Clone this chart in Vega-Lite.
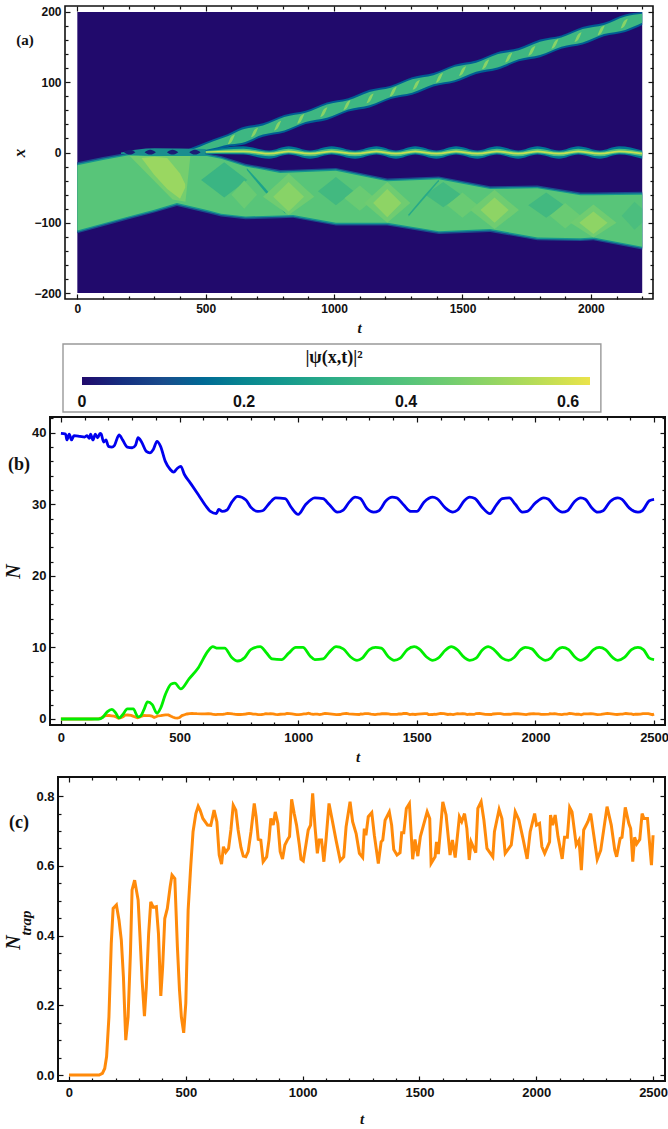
{"$schema":"https://vega.github.io/schema/vega-lite/v6.json","padding":{"left":2,"top":3,"right":0,"bottom":0},"background":"white","bounds":"flush","spacing":411,"config":{"view":{"stroke":"#111","strokeWidth":1.6},"axis":{"grid":false,"domain":false,"tickColor":"#111","tickWidth":1.2,"labelFont":"Liberation Sans","labelFontWeight":"bold","labelColor":"#111","titleColor":"#111","titleFont":"Liberation Serif","titleFontStyle":"italic","titleFontWeight":"bold"},"concat":{"spacing":0}},
"datasets":{
"bg":[{"t0":0,"t1":2200,"x0":-200,"x1":200,"v":0}],
"box":[{"t0":-55.8,"t1":2039,"x0":-369.4,"x1":-272.6}],
"lab":[{"t":-204,"x":160,"s":"(a)"}],
"labb":[{"t":-177,"x":35.5,"s":"(b)"}],
"labc":[{"t":-214,"x":0.723,"s":"(c)"}],
"labtrap":[{"t":-185,"x":0.436,"s":"trap"}],
"low":[
{"id":"a0","t":0,"lo":-115,"hi":-14,"v":0.1},{"id":"a0","t":100,"lo":-105,"hi":-6.5,"v":0.1},{"id":"a0","t":200,"lo":-95,"hi":0,"v":0.1},{"id":"a0","t":300,"lo":-85.5,"hi":-1,"v":0.1},{"id":"a0","t":388,"lo":-76,"hi":-1,"v":0.1},{"id":"a0","t":505,"lo":-86,"hi":-1,"v":0.1},{"id":"a0","t":560,"lo":-91,"hi":-5,"v":0.1},{"id":"a0","t":655,"lo":-95,"hi":-16,"v":0.1},{"id":"a0","t":790,"lo":-93.5,"hi":-25,"v":0.1},{"id":"a0","t":840,"lo":-93,"hi":-24.5,"v":0.1},{"id":"a0","t":1007,"lo":-104,"hi":-22,"v":0.1},{"id":"a0","t":1207,"lo":-104,"hi":-37,"v":0.1},{"id":"a0","t":1408,"lo":-116,"hi":-34,"v":0.1},{"id":"a0","t":1608,"lo":-113,"hi":-48,"v":0.1},{"id":"a0","t":1792,"lo":-125,"hi":-47,"v":0.1},{"id":"a0","t":1960,"lo":-126,"hi":-57,"v":0.1},{"id":"a0","t":2010,"lo":-125,"hi":-57,"v":0.1},{"id":"a0","t":2200,"lo":-138,"hi":-56,"v":0.1},
{"id":"a1","t":0,"lo":-113,"hi":-16,"v":0.24},{"id":"a1","t":100,"lo":-103,"hi":-8.5,"v":0.24},{"id":"a1","t":200,"lo":-93,"hi":-2,"v":0.24},{"id":"a1","t":300,"lo":-83.5,"hi":-3,"v":0.24},{"id":"a1","t":388,"lo":-74,"hi":-3,"v":0.24},{"id":"a1","t":505,"lo":-84,"hi":-3,"v":0.24},{"id":"a1","t":560,"lo":-89,"hi":-7,"v":0.24},{"id":"a1","t":655,"lo":-93,"hi":-18,"v":0.24},{"id":"a1","t":790,"lo":-91.5,"hi":-27,"v":0.24},{"id":"a1","t":840,"lo":-91,"hi":-26.5,"v":0.24},{"id":"a1","t":1007,"lo":-102,"hi":-24,"v":0.24},{"id":"a1","t":1207,"lo":-102,"hi":-39,"v":0.24},{"id":"a1","t":1408,"lo":-114,"hi":-36,"v":0.24},{"id":"a1","t":1608,"lo":-111,"hi":-50,"v":0.24},{"id":"a1","t":1792,"lo":-123,"hi":-49,"v":0.24},{"id":"a1","t":1960,"lo":-124,"hi":-59,"v":0.24},{"id":"a1","t":2010,"lo":-123,"hi":-59,"v":0.24},{"id":"a1","t":2200,"lo":-136,"hi":-58,"v":0.24},
{"id":"a2","t":0,"lo":-111,"hi":-18,"v":0.41},{"id":"a2","t":100,"lo":-101,"hi":-10.5,"v":0.41},{"id":"a2","t":200,"lo":-91,"hi":-4,"v":0.41},{"id":"a2","t":300,"lo":-81.5,"hi":-5,"v":0.41},{"id":"a2","t":388,"lo":-72,"hi":-5,"v":0.41},{"id":"a2","t":505,"lo":-82,"hi":-5,"v":0.41},{"id":"a2","t":560,"lo":-87,"hi":-9,"v":0.41},{"id":"a2","t":655,"lo":-91,"hi":-20,"v":0.41},{"id":"a2","t":790,"lo":-89.5,"hi":-29,"v":0.41},{"id":"a2","t":840,"lo":-89,"hi":-28.5,"v":0.41},{"id":"a2","t":1007,"lo":-100,"hi":-26,"v":0.41},{"id":"a2","t":1207,"lo":-100,"hi":-41,"v":0.41},{"id":"a2","t":1408,"lo":-112,"hi":-38,"v":0.41},{"id":"a2","t":1608,"lo":-109,"hi":-52,"v":0.41},{"id":"a2","t":1792,"lo":-121,"hi":-51,"v":0.41},{"id":"a2","t":1960,"lo":-122,"hi":-61,"v":0.41},{"id":"a2","t":2010,"lo":-121,"hi":-61,"v":0.41},{"id":"a2","t":2200,"lo":-134,"hi":-60,"v":0.41},
{"id":"b1","t":204,"lo":-5,"hi":-5,"v":0.46},{"id":"b1","t":371,"lo":-67,"hi":-5,"v":0.46},{"id":"b1","t":421,"lo":-70,"hi":-5,"v":0.46},{"id":"b1","t":440,"lo":-6,"hi":-5,"v":0.46},
{"id":"b2","t":250,"lo":-8,"hi":-8,"v":0.52},{"id":"b2","t":300,"lo":-32,"hi":-6,"v":0.52},{"id":"b2","t":350,"lo":-52,"hi":-8,"v":0.52},{"id":"b2","t":400,"lo":-66,"hi":-30,"v":0.52},{"id":"b2","t":420,"lo":-50,"hi":-45,"v":0.52},
{"id":"d1","t":482,"lo":-39,"hi":-39,"v":0.34},{"id":"d1","t":572,"lo":-64,"hi":-14,"v":0.34},{"id":"d1","t":662,"lo":-39,"hi":-39,"v":0.34},
{"id":"d2","t":660,"lo":-25,"hi":-22,"v":0.28},{"id":"d2","t":730,"lo":-56,"hi":-50,"v":0.28},{"id":"d2","t":810,"lo":-87,"hi":-84,"v":0.28},
{"id":"d3","t":937,"lo":-55,"hi":-55,"v":0.36},{"id":"d3","t":1007,"lo":-75,"hi":-35,"v":0.36},{"id":"d3","t":1077,"lo":-55,"hi":-55,"v":0.36},
{"id":"d4","t":1355,"lo":-60,"hi":-60,"v":0.36},{"id":"d4","t":1425,"lo":-78,"hi":-42,"v":0.36},{"id":"d4","t":1495,"lo":-60,"hi":-60,"v":0.36},
{"id":"d5","t":1756,"lo":-75,"hi":-75,"v":0.36},{"id":"d5","t":1826,"lo":-93,"hi":-57,"v":0.36},{"id":"d5","t":1896,"lo":-75,"hi":-75,"v":0.36},
{"id":"d6","t":2120,"lo":-90,"hi":-90,"v":0.38},{"id":"d6","t":2170,"lo":-110,"hi":-70,"v":0.38},{"id":"d6","t":2200,"lo":-100,"hi":-80,"v":0.38},
{"id":"d7","t":1290,"lo":-91,"hi":-88,"v":0.3},{"id":"d7","t":1350,"lo":-66,"hi":-62,"v":0.3},{"id":"d7","t":1408,"lo":-41,"hi":-38,"v":0.3},
{"id":"e1","t":600,"lo":-60,"hi":-60,"v":0.44},{"id":"e1","t":650,"lo":-80,"hi":-40,"v":0.44},{"id":"e1","t":700,"lo":-60,"hi":-60,"v":0.44},
{"id":"e2","t":1040,"lo":-65,"hi":-65,"v":0.44},{"id":"e2","t":1100,"lo":-83,"hi":-47,"v":0.44},{"id":"e2","t":1160,"lo":-65,"hi":-65,"v":0.44},
{"id":"e3","t":1440,"lo":-75,"hi":-75,"v":0.44},{"id":"e3","t":1500,"lo":-93,"hi":-57,"v":0.44},{"id":"e3","t":1560,"lo":-75,"hi":-75,"v":0.44},
{"id":"e4","t":1840,"lo":-90,"hi":-90,"v":0.44},{"id":"e4","t":1900,"lo":-108,"hi":-72,"v":0.44},{"id":"e4","t":1960,"lo":-90,"hi":-90,"v":0.44},
{"id":"g2","t":723,"lo":-63,"hi":-63,"v":0.45},{"id":"g2","t":823,"lo":-89,"hi":-30,"v":0.45},{"id":"g2","t":923,"lo":-63,"hi":-63,"v":0.45},
{"id":"g3","t":1117,"lo":-72,"hi":-72,"v":0.45},{"id":"g3","t":1207,"lo":-100,"hi":-42,"v":0.45},{"id":"g3","t":1297,"lo":-72,"hi":-72,"v":0.45},
{"id":"g4","t":1530,"lo":-82,"hi":-82,"v":0.45},{"id":"g4","t":1625,"lo":-109,"hi":-53,"v":0.45},{"id":"g4","t":1720,"lo":-82,"hi":-82,"v":0.45},
{"id":"g5","t":1920,"lo":-100,"hi":-100,"v":0.45},{"id":"g5","t":2010,"lo":-121,"hi":-74,"v":0.45},{"id":"g5","t":2100,"lo":-100,"hi":-100,"v":0.45},
{"id":"f2","t":763,"lo":-63,"hi":-63,"v":0.49},{"id":"f2","t":823,"lo":-84,"hi":-42,"v":0.49},{"id":"f2","t":883,"lo":-63,"hi":-63,"v":0.49},
{"id":"f3","t":1152,"lo":-72,"hi":-72,"v":0.5},{"id":"f3","t":1207,"lo":-92,"hi":-52,"v":0.5},{"id":"f3","t":1262,"lo":-72,"hi":-72,"v":0.5},
{"id":"f4","t":1570,"lo":-82,"hi":-82,"v":0.5},{"id":"f4","t":1625,"lo":-100,"hi":-64,"v":0.5},{"id":"f4","t":1680,"lo":-82,"hi":-82,"v":0.5},
{"id":"f5","t":1955,"lo":-100,"hi":-100,"v":0.5},{"id":"f5","t":2010,"lo":-116,"hi":-84,"v":0.5},{"id":"f5","t":2065,"lo":-100,"hi":-100,"v":0.5}],
"up":[
{"id":"u0","t":420,"lo":-3,"hi":3,"v":0.13},{"id":"u0","t":475,"lo":-1,"hi":11,"v":0.13},{"id":"u0","t":530,"lo":3,"hi":19,"v":0.13},{"id":"u0","t":585,"lo":8,"hi":26,"v":0.13},{"id":"u0","t":640,"lo":10.5,"hi":35.5,"v":0.13},{"id":"u0","t":723,"lo":22.5,"hi":41.5,"v":0.13},{"id":"u0","t":806,"lo":28.4,"hi":53.4,"v":0.13},{"id":"u0","t":889,"lo":40.4,"hi":59.4,"v":0.13},{"id":"u0","t":972,"lo":46.3,"hi":71.3,"v":0.13},{"id":"u0","t":1055,"lo":58.2,"hi":77.2,"v":0.13},{"id":"u0","t":1138,"lo":64.2,"hi":89.2,"v":0.13},{"id":"u0","t":1221,"lo":76.1,"hi":95.1,"v":0.13},{"id":"u0","t":1304,"lo":82.1,"hi":107.1,"v":0.13},{"id":"u0","t":1387,"lo":94,"hi":113,"v":0.13},{"id":"u0","t":1470,"lo":99.9,"hi":124.9,"v":0.13},{"id":"u0","t":1553,"lo":111.9,"hi":130.9,"v":0.13},{"id":"u0","t":1636,"lo":117.8,"hi":142.8,"v":0.13},{"id":"u0","t":1719,"lo":129.7,"hi":148.7,"v":0.13},{"id":"u0","t":1802,"lo":135.7,"hi":160.7,"v":0.13},{"id":"u0","t":1885,"lo":147.6,"hi":166.6,"v":0.13},{"id":"u0","t":1968,"lo":153.6,"hi":178.6,"v":0.13},{"id":"u0","t":2051,"lo":165.5,"hi":184.5,"v":0.13},{"id":"u0","t":2134,"lo":171.5,"hi":196.5,"v":0.13},{"id":"u0","t":2200,"lo":181.5,"hi":200,"v":0.13},
{"id":"u1","t":420,"lo":-1,"hi":1,"v":0.35},{"id":"u1","t":475,"lo":2,"hi":8,"v":0.35},{"id":"u1","t":530,"lo":6,"hi":16,"v":0.35},{"id":"u1","t":585,"lo":11,"hi":23,"v":0.35},{"id":"u1","t":640,"lo":13.5,"hi":32.5,"v":0.35},{"id":"u1","t":723,"lo":25.5,"hi":38.5,"v":0.35},{"id":"u1","t":806,"lo":31.4,"hi":50.4,"v":0.35},{"id":"u1","t":889,"lo":43.4,"hi":56.4,"v":0.35},{"id":"u1","t":972,"lo":49.3,"hi":68.3,"v":0.35},{"id":"u1","t":1055,"lo":61.2,"hi":74.2,"v":0.35},{"id":"u1","t":1138,"lo":67.2,"hi":86.2,"v":0.35},{"id":"u1","t":1221,"lo":79.1,"hi":92.1,"v":0.35},{"id":"u1","t":1304,"lo":85.1,"hi":104.1,"v":0.35},{"id":"u1","t":1387,"lo":97,"hi":110,"v":0.35},{"id":"u1","t":1470,"lo":102.9,"hi":121.9,"v":0.35},{"id":"u1","t":1553,"lo":114.9,"hi":127.9,"v":0.35},{"id":"u1","t":1636,"lo":120.8,"hi":139.8,"v":0.35},{"id":"u1","t":1719,"lo":132.7,"hi":145.7,"v":0.35},{"id":"u1","t":1802,"lo":138.7,"hi":157.7,"v":0.35},{"id":"u1","t":1885,"lo":150.6,"hi":163.6,"v":0.35},{"id":"u1","t":1968,"lo":156.6,"hi":175.6,"v":0.35},{"id":"u1","t":2051,"lo":168.5,"hi":181.5,"v":0.35},{"id":"u1","t":2134,"lo":174.5,"hi":193.5,"v":0.35},{"id":"u1","t":2200,"lo":184.5,"hi":197.5,"v":0.35},
{"id":"s01","t":586,"lo":11.7,"hi":11.7,"v":0.49},{"id":"s01","t":600,"lo":14.7,"hi":22.7,"v":0.49},{"id":"s01","t":614,"lo":25.7,"hi":25.7,"v":0.49},
{"id":"s02","t":676,"lo":21.4,"hi":21.4,"v":0.49},{"id":"s02","t":690,"lo":24.4,"hi":32.4,"v":0.49},{"id":"s02","t":704,"lo":35.4,"hi":35.4,"v":0.49},
{"id":"s03","t":766,"lo":31.1,"hi":31.1,"v":0.49},{"id":"s03","t":780,"lo":34.1,"hi":42.1,"v":0.49},{"id":"s03","t":794,"lo":45.1,"hi":45.1,"v":0.49},
{"id":"s04","t":856,"lo":40.8,"hi":40.8,"v":0.49},{"id":"s04","t":870,"lo":43.8,"hi":51.8,"v":0.49},{"id":"s04","t":884,"lo":54.8,"hi":54.8,"v":0.49},
{"id":"s05","t":946,"lo":50.5,"hi":50.5,"v":0.49},{"id":"s05","t":960,"lo":53.5,"hi":61.5,"v":0.49},{"id":"s05","t":974,"lo":64.5,"hi":64.5,"v":0.49},
{"id":"s06","t":1036,"lo":60.2,"hi":60.2,"v":0.49},{"id":"s06","t":1050,"lo":63.2,"hi":71.2,"v":0.49},{"id":"s06","t":1064,"lo":74.2,"hi":74.2,"v":0.49},
{"id":"s07","t":1126,"lo":69.9,"hi":69.9,"v":0.49},{"id":"s07","t":1140,"lo":72.9,"hi":80.9,"v":0.49},{"id":"s07","t":1154,"lo":83.9,"hi":83.9,"v":0.49},
{"id":"s08","t":1216,"lo":79.6,"hi":79.6,"v":0.49},{"id":"s08","t":1230,"lo":82.6,"hi":90.6,"v":0.49},{"id":"s08","t":1244,"lo":93.6,"hi":93.6,"v":0.49},
{"id":"s09","t":1306,"lo":89.3,"hi":89.3,"v":0.49},{"id":"s09","t":1320,"lo":92.3,"hi":100.3,"v":0.49},{"id":"s09","t":1334,"lo":103.3,"hi":103.3,"v":0.49},
{"id":"s10","t":1396,"lo":99,"hi":99,"v":0.49},{"id":"s10","t":1410,"lo":102,"hi":110,"v":0.49},{"id":"s10","t":1424,"lo":113,"hi":113,"v":0.49},
{"id":"s11","t":1486,"lo":108.7,"hi":108.7,"v":0.49},{"id":"s11","t":1500,"lo":111.7,"hi":119.7,"v":0.49},{"id":"s11","t":1514,"lo":122.7,"hi":122.7,"v":0.49},
{"id":"s12","t":1576,"lo":118.4,"hi":118.4,"v":0.49},{"id":"s12","t":1590,"lo":121.4,"hi":129.4,"v":0.49},{"id":"s12","t":1604,"lo":132.4,"hi":132.4,"v":0.49},
{"id":"s13","t":1666,"lo":128.1,"hi":128.1,"v":0.49},{"id":"s13","t":1680,"lo":131.1,"hi":139.1,"v":0.49},{"id":"s13","t":1694,"lo":142.1,"hi":142.1,"v":0.49},
{"id":"s14","t":1756,"lo":137.7,"hi":137.7,"v":0.49},{"id":"s14","t":1770,"lo":140.7,"hi":148.7,"v":0.49},{"id":"s14","t":1784,"lo":151.7,"hi":151.7,"v":0.49},
{"id":"s15","t":1846,"lo":147.4,"hi":147.4,"v":0.49},{"id":"s15","t":1860,"lo":150.4,"hi":158.4,"v":0.49},{"id":"s15","t":1874,"lo":161.4,"hi":161.4,"v":0.49},
{"id":"s16","t":1936,"lo":157.1,"hi":157.1,"v":0.49},{"id":"s16","t":1950,"lo":160.1,"hi":168.1,"v":0.49},{"id":"s16","t":1964,"lo":171.1,"hi":171.1,"v":0.49},
{"id":"s17","t":2026,"lo":166.8,"hi":166.8,"v":0.49},{"id":"s17","t":2040,"lo":169.8,"hi":177.8,"v":0.49},{"id":"s17","t":2054,"lo":180.8,"hi":180.8,"v":0.49},
{"id":"s18","t":2116,"lo":176.5,"hi":176.5,"v":0.49},{"id":"s18","t":2130,"lo":179.5,"hi":187.5,"v":0.49},{"id":"s18","t":2144,"lo":190.5,"hi":190.5,"v":0.49},
{"id":"p0","t":170,"lo":-2,"hi":0,"v":0.22},{"id":"p0","t":300,"lo":-4,"hi":6,"v":0.22},{"id":"p0","t":500,"lo":-4,"hi":5,"v":0.22},
{"id":"o1","t":182,"lo":0.5,"hi":0.5,"v":0.02},{"id":"o1","t":204,"lo":-3,"hi":4,"v":0.02},{"id":"o1","t":226,"lo":0.5,"hi":0.5,"v":0.02},
{"id":"o2","t":262,"lo":0.5,"hi":0.5,"v":0.02},{"id":"o2","t":284,"lo":-3,"hi":4,"v":0.02},{"id":"o2","t":306,"lo":0.5,"hi":0.5,"v":0.02},
{"id":"o3","t":349,"lo":0.5,"hi":0.5,"v":0.02},{"id":"o3","t":371,"lo":-3,"hi":4,"v":0.02},{"id":"o3","t":393,"lo":0.5,"hi":0.5,"v":0.02},
{"id":"o4","t":436,"lo":0.5,"hi":0.5,"v":0.02},{"id":"o4","t":458,"lo":-3,"hi":4,"v":0.02},{"id":"o4","t":480,"lo":0.5,"hi":0.5,"v":0.02},
{"id":"c0","t":500,"lo":-2,"hi":3,"v":0.17},{"id":"c0","t":647,"lo":-3,"hi":9,"v":0.17},{"id":"c0","t":747,"lo":-9,"hi":3,"v":0.17},{"id":"c0","t":823,"lo":-3,"hi":9,"v":0.17},{"id":"c0","t":906,"lo":-9,"hi":3,"v":0.17},{"id":"c0","t":990,"lo":-3,"hi":9,"v":0.17},{"id":"c0","t":1082,"lo":-9,"hi":3,"v":0.17},{"id":"c0","t":1165,"lo":-3,"hi":9,"v":0.17},{"id":"c0","t":1241,"lo":-9,"hi":3,"v":0.17},{"id":"c0","t":1316,"lo":-3,"hi":9,"v":0.17},{"id":"c0","t":1399,"lo":-9,"hi":3,"v":0.17},{"id":"c0","t":1475,"lo":-3,"hi":9,"v":0.17},{"id":"c0","t":1558,"lo":-9,"hi":3,"v":0.17},{"id":"c0","t":1634,"lo":-3,"hi":9,"v":0.17},{"id":"c0","t":1717,"lo":-9,"hi":3,"v":0.17},{"id":"c0","t":1792,"lo":-3,"hi":9,"v":0.17},{"id":"c0","t":1876,"lo":-9,"hi":3,"v":0.17},{"id":"c0","t":1951,"lo":-3,"hi":9,"v":0.17},{"id":"c0","t":2035,"lo":-9,"hi":3,"v":0.17},{"id":"c0","t":2110,"lo":-3,"hi":9,"v":0.17},{"id":"c0","t":2200,"lo":-9,"hi":3,"v":0.17},
{"id":"c1","t":500,"lo":-1,"hi":2,"v":0.38},{"id":"c1","t":647,"lo":-1,"hi":5.5,"v":0.38},{"id":"c1","t":747,"lo":-5.5,"hi":1,"v":0.38},{"id":"c1","t":823,"lo":-1,"hi":5.5,"v":0.38},{"id":"c1","t":906,"lo":-5.5,"hi":1,"v":0.38},{"id":"c1","t":990,"lo":-1,"hi":5.5,"v":0.38},{"id":"c1","t":1082,"lo":-5.5,"hi":1,"v":0.38},{"id":"c1","t":1165,"lo":-1,"hi":5.5,"v":0.38},{"id":"c1","t":1241,"lo":-5.5,"hi":1,"v":0.38},{"id":"c1","t":1316,"lo":-1,"hi":5.5,"v":0.38},{"id":"c1","t":1399,"lo":-5.5,"hi":1,"v":0.38},{"id":"c1","t":1475,"lo":-1,"hi":5.5,"v":0.38},{"id":"c1","t":1558,"lo":-5.5,"hi":1,"v":0.38},{"id":"c1","t":1634,"lo":-1,"hi":5.5,"v":0.38},{"id":"c1","t":1717,"lo":-5.5,"hi":1,"v":0.38},{"id":"c1","t":1792,"lo":-1,"hi":5.5,"v":0.38},{"id":"c1","t":1876,"lo":-5.5,"hi":1,"v":0.38},{"id":"c1","t":1951,"lo":-1,"hi":5.5,"v":0.38},{"id":"c1","t":2035,"lo":-5.5,"hi":1,"v":0.38},{"id":"c1","t":2110,"lo":-1,"hi":5.5,"v":0.38},{"id":"c1","t":2200,"lo":-5.5,"hi":1,"v":0.38},
{"id":"c2","t":500,"lo":0,"hi":1.5,"v":0.58},{"id":"c2","t":647,"lo":0.5,"hi":3,"v":0.58},{"id":"c2","t":747,"lo":-3,"hi":-0.5,"v":0.58},{"id":"c2","t":823,"lo":0.5,"hi":3,"v":0.58},{"id":"c2","t":906,"lo":-3,"hi":-0.5,"v":0.58},{"id":"c2","t":990,"lo":0.5,"hi":3,"v":0.58},{"id":"c2","t":1082,"lo":-3,"hi":-0.5,"v":0.58},{"id":"c2","t":1165,"lo":0.5,"hi":3,"v":0.58},{"id":"c2","t":1241,"lo":-3,"hi":-0.5,"v":0.58},{"id":"c2","t":1316,"lo":0.5,"hi":3,"v":0.58},{"id":"c2","t":1399,"lo":-3,"hi":-0.5,"v":0.58},{"id":"c2","t":1475,"lo":0.5,"hi":3,"v":0.58},{"id":"c2","t":1558,"lo":-3,"hi":-0.5,"v":0.58},{"id":"c2","t":1634,"lo":0.5,"hi":3,"v":0.58},{"id":"c2","t":1717,"lo":-3,"hi":-0.5,"v":0.58},{"id":"c2","t":1792,"lo":0.5,"hi":3,"v":0.58},{"id":"c2","t":1876,"lo":-3,"hi":-0.5,"v":0.58},{"id":"c2","t":1951,"lo":0.5,"hi":3,"v":0.58},{"id":"c2","t":2035,"lo":-3,"hi":-0.5,"v":0.58},{"id":"c2","t":2110,"lo":0.5,"hi":3,"v":0.58},{"id":"c2","t":2200,"lo":-3,"hi":-0.5,"v":0.58}],
"blue":[{"t":0,"v":39.9},{"t":20,"v":39.8},{"t":25,"v":39},{"t":35,"v":39.8},{"t":45,"v":39},{"t":55,"v":39.6},{"t":80,"v":39.5},{"t":100,"v":39.4},{"t":110,"v":39.6},{"t":120,"v":39.2},{"t":125,"v":39.8},{"t":135,"v":39},{"t":145,"v":39.8},{"t":155,"v":39.3},{"t":165,"v":39.9},{"t":170,"v":39.8},{"t":180,"v":38.7},{"t":190,"v":39},{"t":200,"v":38.1},{"t":215,"v":38},{"t":225,"v":38.2},{"t":245,"v":39.7},{"t":260,"v":39},{"t":280,"v":38},{"t":300,"v":37.9},{"t":315,"v":38.3},{"t":325,"v":39.3},{"t":340,"v":38.7},{"t":360,"v":37.4},{"t":375,"v":37.2},{"t":390,"v":37.7},{"t":405,"v":38.8},{"t":420,"v":38.1},{"t":440,"v":36},{"t":460,"v":34.9},{"t":475,"v":34.5},{"t":490,"v":35},{"t":505,"v":35.3},{"t":520,"v":34.2},{"t":545,"v":33},{"t":580,"v":31.3},{"t":610,"v":29.8},{"t":630,"v":29},{"t":655,"v":28.7},{"t":665,"v":29.3},{"t":680,"v":29},{"t":700,"v":29.2},{"t":720,"v":30.3},{"t":745,"v":31.1},{"t":780,"v":30.6},{"t":800,"v":29.6},{"t":830,"v":29},{"t":850,"v":29.1},{"t":880,"v":30.2},{"t":905,"v":30.9},{"t":945,"v":30.8},{"t":970,"v":29.6},{"t":1000,"v":28.6},{"t":1030,"v":29.9},{"t":1070,"v":30.9},{"t":1105,"v":30.8},{"t":1130,"v":30},{"t":1165,"v":28.9},{"t":1190,"v":29.2},{"t":1215,"v":30.3},{"t":1240,"v":31},{"t":1262,"v":30.8},{"t":1290,"v":29.4},{"t":1318,"v":28.9},{"t":1340,"v":29.1},{"t":1370,"v":30.5},{"t":1396,"v":31},{"t":1415,"v":30.9},{"t":1445,"v":29.9},{"t":1475,"v":29},{"t":1500,"v":29},{"t":1530,"v":30.3},{"t":1567,"v":31},{"t":1585,"v":30.8},{"t":1620,"v":29.5},{"t":1652,"v":28.9},{"t":1672,"v":29.2},{"t":1700,"v":30.5},{"t":1723,"v":31},{"t":1745,"v":30.8},{"t":1775,"v":29.6},{"t":1808,"v":28.7},{"t":1835,"v":29.9},{"t":1860,"v":30.8},{"t":1890,"v":30.9},{"t":1915,"v":30},{"t":1945,"v":28.9},{"t":1965,"v":29},{"t":2000,"v":30.2},{"t":2035,"v":30.9},{"t":2055,"v":30.7},{"t":2085,"v":29.5},{"t":2113,"v":28.9},{"t":2135,"v":29.1},{"t":2165,"v":30.4},{"t":2191,"v":30.9},{"t":2210,"v":30.7},{"t":2240,"v":29.4},{"t":2262,"v":28.9},{"t":2285,"v":29.1},{"t":2315,"v":30.4},{"t":2347,"v":30.9},{"t":2365,"v":30.7},{"t":2395,"v":29.5},{"t":2432,"v":28.9},{"t":2450,"v":29.1},{"t":2480,"v":30.5},{"t":2500,"v":30.7}],
"green":[{"t":0,"v":0},{"t":160,"v":0},{"t":175,"v":0.2},{"t":195,"v":1},{"t":215,"v":1.35},{"t":230,"v":0.9},{"t":245,"v":0.15},{"t":260,"v":0.6},{"t":280,"v":1.4},{"t":305,"v":1.4},{"t":325,"v":0.3},{"t":335,"v":0.4},{"t":350,"v":1.3},{"t":365,"v":2.4},{"t":385,"v":2},{"t":405,"v":0.8},{"t":420,"v":1.5},{"t":440,"v":3.4},{"t":465,"v":4.9},{"t":480,"v":5},{"t":505,"v":4.2},{"t":540,"v":5.6},{"t":580,"v":7.2},{"t":620,"v":9.5},{"t":640,"v":10.1},{"t":660,"v":9.9},{"t":690,"v":9.9},{"t":720,"v":8.6},{"t":745,"v":8.1},{"t":775,"v":8.6},{"t":800,"v":9.7},{"t":840,"v":10.1},{"t":865,"v":9.3},{"t":890,"v":8.4},{"t":930,"v":8.3},{"t":960,"v":9.2},{"t":990,"v":10},{"t":1020,"v":10},{"t":1050,"v":8.8},{"t":1070,"v":8.3},{"t":1105,"v":8.4},{"t":1130,"v":9.3},{"t":1160,"v":10.1},{"t":1190,"v":9.8},{"t":1220,"v":8.7},{"t":1248,"v":8.2},{"t":1270,"v":8.5},{"t":1300,"v":9.7},{"t":1326,"v":10},{"t":1350,"v":9.9},{"t":1380,"v":8.7},{"t":1404,"v":8.2},{"t":1430,"v":8.5},{"t":1460,"v":9.7},{"t":1489,"v":10.1},{"t":1510,"v":9.8},{"t":1540,"v":8.7},{"t":1567,"v":8.2},{"t":1590,"v":8.5},{"t":1620,"v":9.6},{"t":1645,"v":10.1},{"t":1670,"v":9.7},{"t":1700,"v":8.6},{"t":1723,"v":8.2},{"t":1750,"v":8.5},{"t":1775,"v":9.6},{"t":1801,"v":10.1},{"t":1825,"v":9.7},{"t":1860,"v":8.5},{"t":1886,"v":8.2},{"t":1910,"v":8.6},{"t":1935,"v":9.6},{"t":1957,"v":10},{"t":1985,"v":9.8},{"t":2015,"v":8.7},{"t":2042,"v":8.2},{"t":2065,"v":8.5},{"t":2090,"v":9.6},{"t":2113,"v":10},{"t":2140,"v":9.7},{"t":2165,"v":8.7},{"t":2191,"v":8.2},{"t":2215,"v":8.6},{"t":2245,"v":9.7},{"t":2269,"v":10},{"t":2295,"v":9.7},{"t":2325,"v":8.6},{"t":2347,"v":8.2},{"t":2375,"v":8.6},{"t":2405,"v":9.7},{"t":2432,"v":10},{"t":2455,"v":9.7},{"t":2480,"v":8.5},{"t":2500,"v":8.3}],
"trap":[{"t":0,"v":0},{"t":129,"v":0},{"t":143,"v":0.005},{"t":153,"v":0.019},{"t":161,"v":0.053},{"t":171,"v":0.167},{"t":181,"v":0.378},{"t":189,"v":0.478},{"t":203,"v":0.488},{"t":214,"v":0.445},{"t":224,"v":0.387},{"t":233,"v":0.282},{"t":243,"v":0.1},{"t":253,"v":0.167},{"t":263,"v":0.349},{"t":270,"v":0.531},{"t":281,"v":0.559},{"t":296,"v":0.502},{"t":304,"v":0.397},{"t":313,"v":0.272},{"t":323,"v":0.169},{"t":331,"v":0.253},{"t":341,"v":0.406},{"t":350,"v":0.497},{"t":361,"v":0.481},{"t":374,"v":0.483},{"t":383,"v":0.406},{"t":393,"v":0.227},{"t":401,"v":0.311},{"t":410,"v":0.449},{"t":421,"v":0.478},{"t":433,"v":0.54},{"t":441,"v":0.574},{"t":453,"v":0.564},{"t":464,"v":0.368},{"t":473,"v":0.244},{"t":481,"v":0.167},{"t":491,"v":0.121},{"t":500,"v":0.206},{"t":510,"v":0.473},{"t":521,"v":0.598},{"t":531,"v":0.698},{"t":543,"v":0.75},{"t":553,"v":0.771},{"t":561,"v":0.76},{"t":573,"v":0.736},{"t":593,"v":0.717},{"t":607,"v":0.716},{"t":621,"v":0.76},{"t":633,"v":0.727},{"t":643,"v":0.631},{"t":653,"v":0.605},{"t":661,"v":0.655},{"t":671,"v":0.639},{"t":683,"v":0.65},{"t":693,"v":0.703},{"t":703,"v":0.774},{"t":714,"v":0.76},{"t":724,"v":0.703},{"t":736,"v":0.653},{"t":746,"v":0.628},{"t":757,"v":0.626},{"t":767,"v":0.641},{"t":779,"v":0.698},{"t":793,"v":0.779},{"t":801,"v":0.741},{"t":810,"v":0.676},{"t":821,"v":0.674},{"t":831,"v":0.612},{"t":846,"v":0.626},{"t":856,"v":0.674},{"t":864,"v":0.736},{"t":874,"v":0.717},{"t":883,"v":0.755},{"t":894,"v":0.722},{"t":904,"v":0.641},{"t":914,"v":0.62},{"t":924,"v":0.66},{"t":936,"v":0.676},{"t":944,"v":0.684},{"t":953,"v":0.791},{"t":964,"v":0.75},{"t":974,"v":0.717},{"t":986,"v":0.66},{"t":993,"v":0.619},{"t":1003,"v":0.614},{"t":1014,"v":0.66},{"t":1024,"v":0.703},{"t":1034,"v":0.717},{"t":1043,"v":0.808},{"t":1053,"v":0.712},{"t":1063,"v":0.636},{"t":1071,"v":0.674},{"t":1081,"v":0.674},{"t":1091,"v":0.612},{"t":1100,"v":0.674},{"t":1113,"v":0.779},{"t":1124,"v":0.741},{"t":1143,"v":0.674},{"t":1161,"v":0.615},{"t":1176,"v":0.626},{"t":1186,"v":0.712},{"t":1203,"v":0.784},{"t":1214,"v":0.727},{"t":1229,"v":0.693},{"t":1243,"v":0.636},{"t":1257,"v":0.624},{"t":1264,"v":0.707},{"t":1271,"v":0.688},{"t":1281,"v":0.741},{"t":1296,"v":0.753},{"t":1307,"v":0.688},{"t":1324,"v":0.607},{"t":1336,"v":0.669},{"t":1343,"v":0.674},{"t":1353,"v":0.731},{"t":1371,"v":0.755},{"t":1381,"v":0.717},{"t":1390,"v":0.647},{"t":1404,"v":0.631},{"t":1417,"v":0.638},{"t":1424,"v":0.695},{"t":1433,"v":0.695},{"t":1444,"v":0.765},{"t":1457,"v":0.779},{"t":1471,"v":0.619},{"t":1481,"v":0.676},{"t":1493,"v":0.628},{"t":1504,"v":0.684},{"t":1533,"v":0.755},{"t":1544,"v":0.736},{"t":1550,"v":0.607},{"t":1567,"v":0.626},{"t":1573,"v":0.669},{"t":1581,"v":0.634},{"t":1600,"v":0.784},{"t":1614,"v":0.746},{"t":1631,"v":0.631},{"t":1641,"v":0.674},{"t":1653,"v":0.624},{"t":1671,"v":0.741},{"t":1681,"v":0.727},{"t":1693,"v":0.75},{"t":1703,"v":0.707},{"t":1713,"v":0.617},{"t":1721,"v":0.669},{"t":1741,"v":0.638},{"t":1750,"v":0.765},{"t":1764,"v":0.784},{"t":1776,"v":0.731},{"t":1789,"v":0.65},{"t":1814,"v":0.626},{"t":1821,"v":0.698},{"t":1841,"v":0.762},{"t":1853,"v":0.736},{"t":1867,"v":0.636},{"t":1893,"v":0.66},{"t":1910,"v":0.755},{"t":1926,"v":0.731},{"t":1943,"v":0.679},{"t":1961,"v":0.62},{"t":1974,"v":0.698},{"t":1993,"v":0.75},{"t":2001,"v":0.717},{"t":2014,"v":0.722},{"t":2024,"v":0.655},{"t":2036,"v":0.636},{"t":2057,"v":0.669},{"t":2061,"v":0.746},{"t":2070,"v":0.717},{"t":2081,"v":0.746},{"t":2093,"v":0.684},{"t":2111,"v":0.62},{"t":2121,"v":0.682},{"t":2133,"v":0.682},{"t":2143,"v":0.768},{"t":2153,"v":0.755},{"t":2171,"v":0.66},{"t":2183,"v":0.674},{"t":2193,"v":0.588},{"t":2203,"v":0.703},{"t":2221,"v":0.727},{"t":2233,"v":0.75},{"t":2243,"v":0.703},{"t":2261,"v":0.619},{"t":2276,"v":0.645},{"t":2303,"v":0.77},{"t":2321,"v":0.717},{"t":2336,"v":0.645},{"t":2344,"v":0.626},{"t":2359,"v":0.679},{"t":2367,"v":0.682},{"t":2381,"v":0.768},{"t":2396,"v":0.722},{"t":2404,"v":0.707},{"t":2413,"v":0.612},{"t":2421,"v":0.682},{"t":2430,"v":0.663},{"t":2443,"v":0.676},{"t":2453,"v":0.75},{"t":2461,"v":0.736},{"t":2476,"v":0.736},{"t":2493,"v":0.602},{"t":2500,"v":0.688}]
},
"vconcat":[
{"bounds":"flush","hconcat":[
{"width":15,"height":293,"view":{"stroke":null},"data":{"name":"lab"},"mark":{"type":"point","opacity":0},"encoding":{"x":{"field":"t","type":"quantitative","axis":null},"y":{"field":"x","type":"quantitative","axis":null}}},
{"width":588,"height":293,"view":{"stroke":"#111","strokeWidth":1.6},"resolve":{"axis":{"x":"independent","y":"independent"}},"layer":[
{"data":{"name":"bg"},"mark":"rect","encoding":{
"x":{"field":"t0","type":"quantitative","scale":{"domain":[-48,2242],"nice":false,"zero":false},"axis":{"orient":"bottom","format":"d","values":[0,500,1000,1500,2000],"tickSize":-5,"labelFontSize":12,"labelPadding":9,"title":"t","titleFontSize":15,"titlePadding":6}},"x2":{"field":"t1"},
"y":{"field":"x0","type":"quantitative","scale":{"domain":[-208.5,208.5],"nice":false,"zero":false},"axis":{"orient":"left","values":[-200,-100,0,100,200],"tickSize":-5,"labelFontSize":12,"labelPadding":9,"title":"x","titleFontSize":17,"titleX":-37}},"y2":{"field":"x1"},
"color":{"field":"v","type":"quantitative","scale":{"domain":[0,0.627],"range":["#210a6c","#1b4e8d","#1e8a8e","#31ae85","#5cc778","#9cd760","#ebe34b"]},"legend":{"orient":"none","legendX":27,"legendY":338,"direction":"horizontal","gradientLength":508,"gradientThickness":8,"values":[0,0.2,0.4,0.6],"format":".1~f","title":"|ψ(x,t)|²","titleFont":"Liberation Serif","titleFontSize":18,"titleFontWeight":"bold","titleColor":"#111","titleAnchor":"middle","titlePadding":10,"labelFont":"Liberation Sans","labelFontSize":16,"labelFontWeight":"bold","labelColor":"#111","labelOffset":9,"padding":5,"encode":{"labels":{"update":{"align":{"value":"center"}}}}}}}},
{"data":{"name":"low"},"mark":{"type":"area","interpolate":"linear"},"encoding":{
"x":{"field":"t","type":"quantitative","scale":{"domain":[-48,2242],"nice":false,"zero":false},"axis":{"orient":"top","values":[0,500,1000,1500,2000],"tickSize":-5,"labels":false,"title":null}},
"y":{"field":"lo","type":"quantitative","scale":{"domain":[-208.5,208.5],"nice":false,"zero":false},"axis":{"orient":"right","values":[-200,-100,0,100,200],"tickSize":-5,"labels":false,"title":null}},"y2":{"field":"hi"},"detail":{"field":"id"},
"color":{"field":"v","type":"quantitative","legend":null}}},
{"data":{"name":"up"},"mark":{"type":"area","interpolate":"monotone"},"encoding":{
"x":{"field":"t","type":"quantitative","scale":{"domain":[-48,2242],"nice":false,"zero":false},"axis":{"orient":"bottom","values":[100,200,300,400,600,700,800,900,1100,1200,1300,1400,1600,1700,1800,1900,2100,2200],"tickSize":-3,"labels":false,"title":null}},
"y":{"field":"lo","type":"quantitative","scale":{"domain":[-208.5,208.5],"nice":false,"zero":false},"axis":{"orient":"left","values":[-180,-160,-140,-120,-80,-60,-40,-20,20,40,60,80,120,140,160,180],"tickSize":-3,"labels":false,"title":null}},"y2":{"field":"hi"},"detail":{"field":"id"},
"color":{"field":"v","type":"quantitative","legend":null}}},
{"data":{"name":"lab"},"mark":{"type":"text","font":"Liberation Serif","fontWeight":"bold","fontSize":15,"color":"#111"},"encoding":{
"x":{"field":"t","type":"quantitative","scale":{"domain":[-48,2242],"nice":false,"zero":false},"axis":{"orient":"top","values":[100,200,300,400,600,700,800,900,1100,1200,1300,1400,1600,1700,1800,1900,2100,2200],"tickSize":-3,"labels":false,"title":null}},
"y":{"field":"x","type":"quantitative","scale":{"domain":[-208.5,208.5],"nice":false,"zero":false},"axis":{"orient":"right","values":[-180,-160,-140,-120,-80,-60,-40,-20,20,40,60,80,120,140,160,180],"tickSize":-3,"labels":false,"title":null}},
"text":{"field":"s"}}},
{"data":{"name":"box"},"mark":{"type":"rect","fillOpacity":0,"fill":"white","stroke":"#999","strokeWidth":1.4},"encoding":{
"x":{"field":"t0","type":"quantitative","scale":{"domain":[-48,2242],"nice":false,"zero":false},"axis":null},"x2":{"field":"t1"},
"y":{"field":"x0","type":"quantitative","scale":{"domain":[-208.5,208.5],"nice":false,"zero":false},"axis":null},"y2":{"field":"x1"}}}
]}
],"spacing":0},
{"bounds":"flush","spacing":52,"vconcat":[
{"width":615,"height":308,"view":{"stroke":"#111","strokeWidth":2},"resolve":{"axis":{"x":"independent","y":"independent"}},"layer":[
{"data":{"name":"trap"},"mark":{"type":"line","color":"#ff8a0a","strokeWidth":2.8},"encoding":{
"x":{"field":"t","type":"quantitative","scale":{"domain":[-46,2546],"nice":false,"zero":false},"axis":{"orient":"bottom","format":"d","values":[0,500,1000,1500,2000,2500],"tickSize":-5,"labelFontSize":13,"labelPadding":11,"title":"t","titleFontSize":15,"titlePadding":5}},
"y":{"field":"v","type":"quantitative","scale":{"domain":[-0.84,42.2],"nice":false,"zero":false},"axis":{"orient":"left","values":[0,10,20,30,40],"tickSize":-5,"labelFontSize":13,"labelPadding":9,"title":"N","titleFontSize":20,"titleX":-27}}}},
{"data":{"name":"green"},"mark":{"type":"line","color":"#00ee00","strokeWidth":2.8,"interpolate":"monotone"},"encoding":{
"x":{"field":"t","type":"quantitative","scale":{"domain":[-46,2546],"nice":false,"zero":false},"axis":{"orient":"top","values":[0,500,1000,1500,2000,2500],"tickSize":-5,"labels":false,"title":null}},
"y":{"field":"v","type":"quantitative","scale":{"domain":[-0.84,42.2],"nice":false,"zero":false},"axis":{"orient":"right","values":[0,10,20,30,40],"tickSize":-5,"labels":false,"title":null}}}},
{"data":{"name":"blue"},"mark":{"type":"line","color":"#0000ee","strokeWidth":2.8,"interpolate":"monotone"},"encoding":{
"x":{"field":"t","type":"quantitative","scale":{"domain":[-46,2546],"nice":false,"zero":false},"axis":{"orient":"bottom","values":[100,200,300,400,600,700,800,900,1100,1200,1300,1400,1600,1700,1800,1900,2100,2200,2300,2400],"tickSize":-3,"labels":false,"title":null}},
"y":{"field":"v","type":"quantitative","scale":{"domain":[-0.84,42.2],"nice":false,"zero":false},"axis":{"orient":"left","values":[2,4,6,8,12,14,16,18,22,24,26,28,32,34,36,38,42],"tickSize":-3,"labels":false,"title":null}}}},
{"data":{"name":"labb"},"mark":{"type":"text","font":"Liberation Serif","fontWeight":"bold","fontSize":18,"color":"#111"},"encoding":{
"x":{"field":"t","type":"quantitative","scale":{"domain":[-46,2546],"nice":false,"zero":false},"axis":{"orient":"top","values":[100,200,300,400,600,700,800,900,1100,1200,1300,1400,1600,1700,1800,1900,2100,2200,2300,2400],"tickSize":-3,"labels":false,"title":null}},
"y":{"field":"x","type":"quantitative","scale":{"domain":[-0.84,42.2],"nice":false,"zero":false},"axis":{"orient":"right","values":[2,4,6,8,12,14,16,18,22,24,26,28,32,34,36,38,42],"tickSize":-3,"labels":false,"title":null}},
"text":{"field":"s"}}}
]},
{"bounds":"flush","spacing":0,"hconcat":[
{"width":8,"height":304,"view":{"stroke":null},"data":{"name":"lab"},"mark":{"type":"point","opacity":0},"encoding":{"x":{"field":"t","type":"quantitative","axis":null},"y":{"field":"x","type":"quantitative","axis":null}}},
{"width":607,"height":304,"view":{"stroke":"#111","strokeWidth":2},"resolve":{"axis":{"x":"independent","y":"independent"}},"layer":[
{"data":{"name":"trap"},"mark":{"type":"line","color":"#ff8a0a","strokeWidth":3},"encoding":{
"x":{"field":"t","type":"quantitative","scale":{"domain":[-47,2551],"nice":false,"zero":false},"axis":{"orient":"bottom","format":"d","values":[0,500,1000,1500,2000,2500],"tickSize":-5,"labelFontSize":13,"labelPadding":10,"title":"t","titleFontSize":15,"titlePadding":12}},
"y":{"field":"v","type":"quantitative","scale":{"domain":[-0.017,0.855],"nice":false,"zero":false},"axis":{"orient":"left","values":[0,0.2,0.4,0.6,0.8],"format":".1f","tickSize":-5,"labelFontSize":13,"labelPadding":9,"title":"N","titleFontSize":20,"titleX":-35,"titleY":165}}}},
{"data":{"name":"labtrap"},"mark":{"type":"text","font":"Liberation Serif","fontStyle":"italic","fontWeight":"bold","fontSize":15,"angle":270,"color":"#111"},"encoding":{
"x":{"field":"t","type":"quantitative","scale":{"domain":[-47,2551],"nice":false,"zero":false},"axis":{"orient":"top","values":[0,500,1000,1500,2000,2500],"tickSize":-5,"labels":false,"title":null}},
"y":{"field":"x","type":"quantitative","scale":{"domain":[-0.017,0.855],"nice":false,"zero":false},"axis":{"orient":"right","values":[0,0.2,0.4,0.6,0.8],"tickSize":-5,"labels":false,"title":null}},
"text":{"field":"s"}}},
{"data":{"name":"labc"},"mark":{"type":"text","font":"Liberation Serif","fontWeight":"bold","fontSize":18,"color":"#111"},"encoding":{
"x":{"field":"t","type":"quantitative","scale":{"domain":[-47,2551],"nice":false,"zero":false},"axis":{"orient":"bottom","values":[100,200,300,400,600,700,800,900,1100,1200,1300,1400,1600,1700,1800,1900,2100,2200,2300,2400],"tickSize":-3,"labels":false,"title":null}},
"y":{"field":"x","type":"quantitative","scale":{"domain":[-0.017,0.855],"nice":false,"zero":false},"axis":{"orient":"left","values":[0.05,0.1,0.15,0.25,0.3,0.35,0.45,0.5,0.55,0.65,0.7,0.75],"tickSize":-3,"labels":false,"title":null}},
"text":{"field":"s"}}},
{"data":{"name":"trap"},"mark":{"type":"line","opacity":0},"encoding":{
"x":{"field":"t","type":"quantitative","scale":{"domain":[-47,2551],"nice":false,"zero":false},"axis":{"orient":"top","values":[100,200,300,400,600,700,800,900,1100,1200,1300,1400,1600,1700,1800,1900,2100,2200,2300,2400],"tickSize":-3,"labels":false,"title":null}},
"y":{"field":"v","type":"quantitative","scale":{"domain":[-0.017,0.855],"nice":false,"zero":false},"axis":{"orient":"right","values":[0.05,0.1,0.15,0.25,0.3,0.35,0.45,0.5,0.55,0.65,0.7,0.75],"tickSize":-3,"labels":false,"title":null}}}}
]}
]}
]}
]}
